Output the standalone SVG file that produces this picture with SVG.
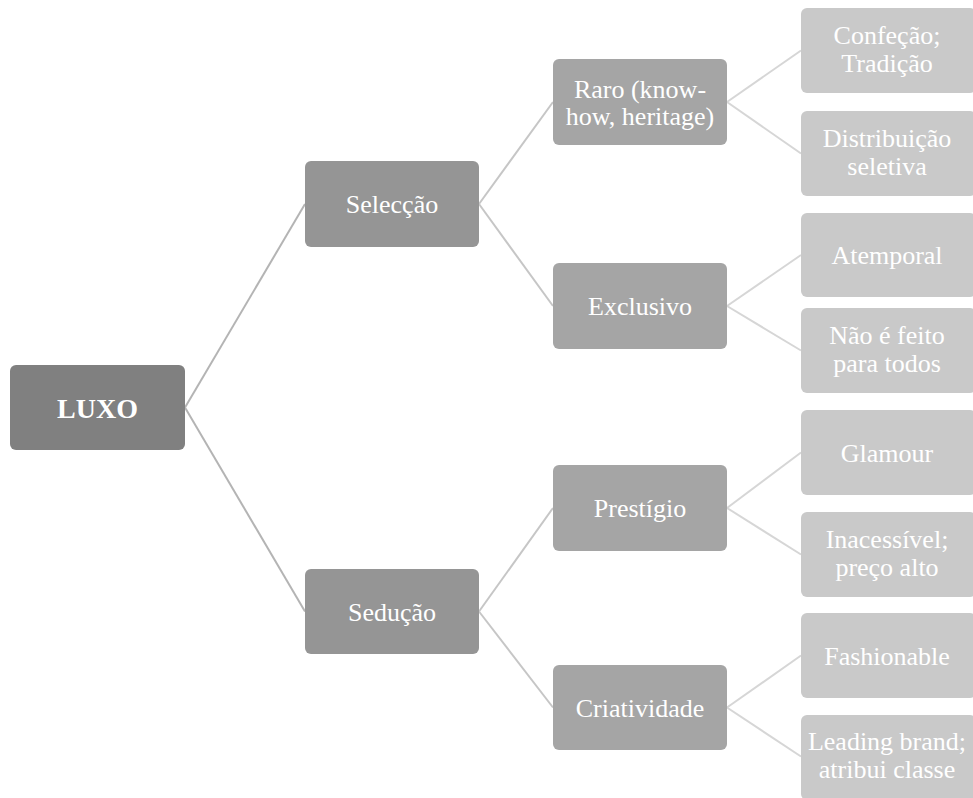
<svg xmlns="http://www.w3.org/2000/svg" width="973" height="798" viewBox="0 0 973 798">
  <style>
    .lbl { font-family: "Liberation Serif", "Times New Roman", serif; font-size: 26px; fill: #ffffff; text-anchor: middle; }
    .root { font-size: 28px; font-weight: bold; }
    .l1 { fill: #808080; }
    .l2 { fill: #959595; }
    .l3 { fill: #a5a5a5; }
    .l4 { fill: #c9c9c9; }
    .c1 { stroke: #b4b4b4; stroke-width: 2; fill: none; }
    .c2 { stroke: #c6c6c6; stroke-width: 2; fill: none; }
    .c3 { stroke: #d6d6d6; stroke-width: 2; fill: none; }
  </style>
  <rect width="973" height="798" fill="#ffffff"/>

  <g id="connectors">
    <line class="c1" x1="185" y1="407.5" x2="305" y2="204"/>
    <line class="c1" x1="185" y1="407.5" x2="305" y2="611.5"/>
    <line class="c2" x1="479" y1="204" x2="553" y2="102"/>
    <line class="c2" x1="479" y1="204" x2="553" y2="306"/>
    <line class="c2" x1="479" y1="611.5" x2="553" y2="508"/>
    <line class="c2" x1="479" y1="611.5" x2="553" y2="707.5"/>
    <line class="c3" x1="727" y1="102" x2="801" y2="50.5"/>
    <line class="c3" x1="727" y1="102" x2="801" y2="153.5"/>
    <line class="c3" x1="727" y1="306" x2="801" y2="255"/>
    <line class="c3" x1="727" y1="306" x2="801" y2="350.5"/>
    <line class="c3" x1="727" y1="508" x2="801" y2="452.5"/>
    <line class="c3" x1="727" y1="508" x2="801" y2="554.5"/>
    <line class="c3" x1="727" y1="707.5" x2="801" y2="655.5"/>
    <line class="c3" x1="727" y1="707.5" x2="801" y2="756.5"/>
  </g>

  <g id="luxo">
    <rect class="l1" x="10" y="365" width="175" height="85" rx="6"/>
    <text class="lbl root" x="97.5" y="417.5">LUXO</text>
  </g>

  <g id="seleccao">
    <rect class="l2" x="305" y="161" width="174" height="86" rx="6"/>
    <text class="lbl" x="392" y="213">Selecção</text>
  </g>
  <g id="seducao">
    <rect class="l2" x="305" y="569" width="174" height="85" rx="6"/>
    <text class="lbl" x="392" y="620.5">Sedução</text>
  </g>

  <g id="raro">
    <rect class="l3" x="553" y="59" width="174" height="86" rx="6"/>
    <text class="lbl" x="640" y="98">Raro (know-</text>
    <text class="lbl" x="640" y="125">how, heritage)</text>
  </g>
  <g id="exclusivo">
    <rect class="l3" x="553" y="263" width="174" height="86" rx="6"/>
    <text class="lbl" x="640" y="315">Exclusivo</text>
  </g>
  <g id="prestigio">
    <rect class="l3" x="553" y="465" width="174" height="86" rx="6"/>
    <text class="lbl" x="640" y="517">Prestígio</text>
  </g>
  <g id="criatividade">
    <rect class="l3" x="553" y="665" width="174" height="85" rx="6"/>
    <text class="lbl" x="640" y="716.5">Criatividade</text>
  </g>

  <g id="confecao">
    <rect class="l4" x="801" y="8" width="175" height="85" rx="6"/>
    <text class="lbl" x="887" y="44">Confeção;</text>
    <text class="lbl" x="887" y="72">Tradição</text>
  </g>
  <g id="distribuicao">
    <rect class="l4" x="801" y="111" width="175" height="85" rx="6"/>
    <text class="lbl" x="887" y="147">Distribuição</text>
    <text class="lbl" x="887" y="175">seletiva</text>
  </g>
  <g id="atemporal">
    <rect class="l4" x="801" y="213" width="175" height="84" rx="6"/>
    <text class="lbl" x="887" y="264">Atemporal</text>
  </g>
  <g id="nao-e-feito">
    <rect class="l4" x="801" y="308" width="175" height="85" rx="6"/>
    <text class="lbl" x="887" y="344">Não é feito</text>
    <text class="lbl" x="887" y="372">para todos</text>
  </g>
  <g id="glamour">
    <rect class="l4" x="801" y="410" width="175" height="85" rx="6"/>
    <text class="lbl" x="887" y="461.5">Glamour</text>
  </g>
  <g id="inacessivel">
    <rect class="l4" x="801" y="512" width="175" height="85" rx="6"/>
    <text class="lbl" x="887" y="548">Inacessível;</text>
    <text class="lbl" x="887" y="576">preço alto</text>
  </g>
  <g id="fashionable">
    <rect class="l4" x="801" y="613" width="175" height="85" rx="6"/>
    <text class="lbl" x="887" y="664.5">Fashionable</text>
  </g>
  <g id="leading-brand">
    <rect class="l4" x="801" y="715" width="175" height="85" rx="6"/>
    <text class="lbl" x="887" y="750">Leading brand;</text>
    <text class="lbl" x="887" y="778">atribui classe</text>
  </g>
</svg>
